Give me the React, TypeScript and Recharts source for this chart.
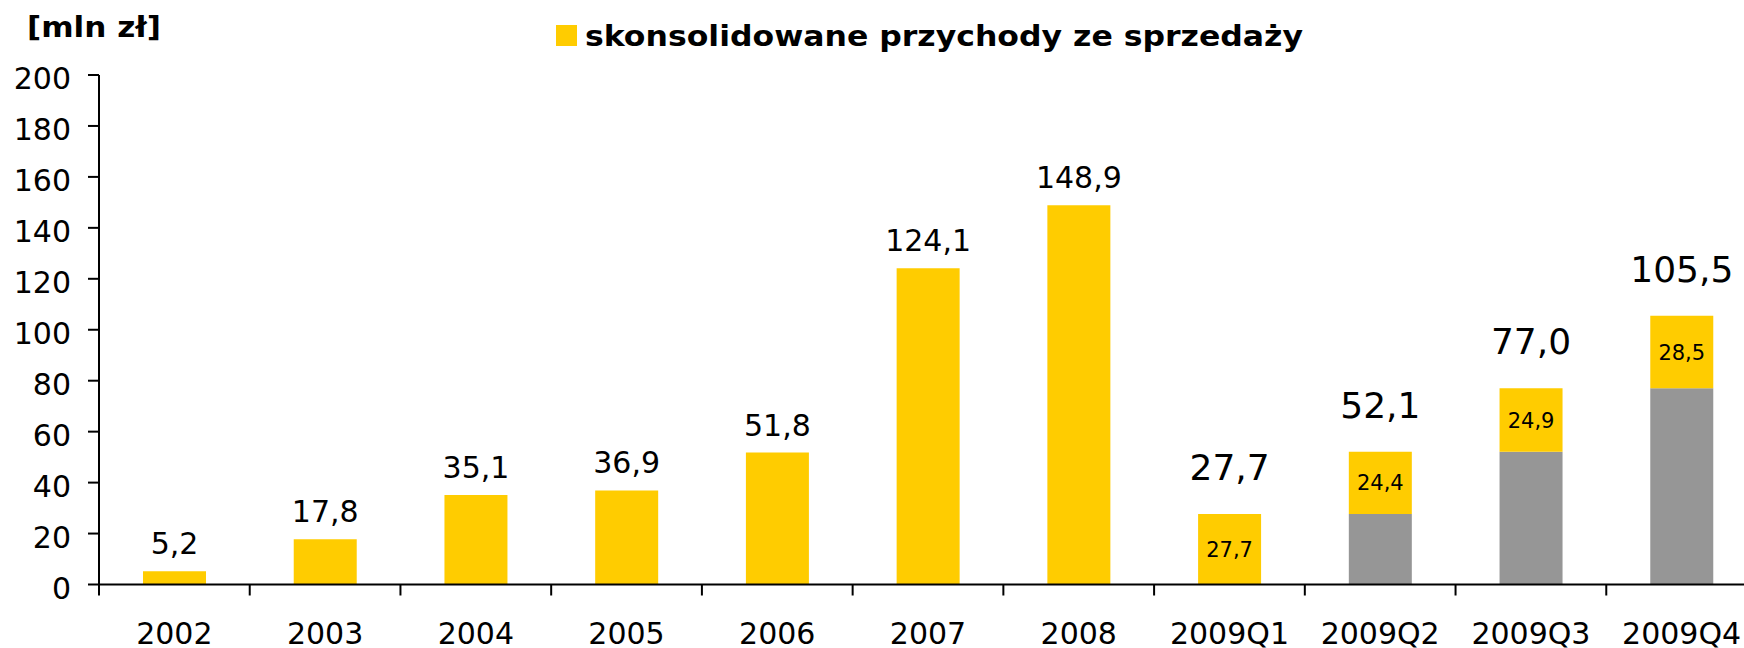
import React from 'react';
import { BarChart, Bar, XAxis, YAxis, Legend, LabelList } from 'recharts';

const categories = ['2002', '2003', '2004', '2005', '2006', '2007', '2008', '2009Q1', '2009Q2', '2009Q3', '2009Q4'];
// grey part = revenue of earlier quarters of 2009 (cumulative)
const earlierQuarters = [0, 0, 0, 0, 0, 0, 0, 0, 27.7, 52.1, 77.0];
// yellow part = revenue of the period itself
const periodRevenue = [5.2, 17.8, 35.1, 36.9, 51.8, 124.1, 148.9, 27.7, 24.4, 24.9, 28.5];
const yTicks = [0, 20, 40, 60, 80, 100, 120, 140, 160, 180, 200];

const unitLabel = '[mln zł]';
const legendLabel = 'skonsolidowane przychody ze sprzedaży';

const YELLOW = '#FFCC00';
const GREY = '#969696';
const FONT = '"DejaVu Sans", Verdana, sans-serif';

const CHART_W = 1760;
const CHART_H = 648;
const Y_AXIS_W = 99;
const RIGHT = 3;

const data = categories.map((c, i) => ({
  category: c,
  earlier: earlierQuarters[i],
  period: periodRevenue[i],
}));

const fmt = (v: number) => v.toFixed(1).replace('.', ',');
const isQuarter = (i: number) => categories[i].includes('Q');

function BarLabels(props: any) {
  const { index } = props;
  const vb = props.viewBox ?? props;
  const { x, y, width, height } = vb;
  const cx = x + width / 2;
  const total = fmt(earlierQuarters[index] + periodRevenue[index]);
  if (!isQuarter(index)) {
    return (
      <text x={cx} y={y - 17} textAnchor="middle" fontSize={30} fill="#000" fontFamily={FONT}>
        {total}
      </text>
    );
  }
  return (
    <g fontFamily={FONT} fill="#000">
      <text x={cx} y={y - 34} textAnchor="middle" fontSize={36}>{total}</text>
      <text x={cx} y={y + height / 2} dy="0.36em" textAnchor="middle" fontSize={21}>
        {fmt(periodRevenue[index])}
      </text>
    </g>
  );
}

function XTick(props: any) {
  const { x, y, payload } = props;
  const half = payload?.offset || (CHART_W - Y_AXIS_W - RIGHT) / categories.length / 2;
  return (
    <g>
      <line x1={x - half} x2={x - half} y1={y} y2={y + 11} stroke="#000" strokeWidth={2} />
      <text x={x} y={y + 59} textAnchor="middle" fontSize={30} fill="#000" fontFamily={FONT}>
        {payload.value}
      </text>
    </g>
  );
}

function YTick(props: any) {
  const { x, y, payload } = props;
  return (
    <text x={x} y={y} dy={14} textAnchor="end" fontSize={30} fill="#000" fontFamily={FONT}>
      {payload.value}
    </text>
  );
}

function LegendBox() {
  return (
    <svg width={1744} height={60} style={{ display: 'block' }}>
      <rect x={556} y={25} width={21} height={21} fill={YELLOW} />
      <text x={585} y={46} fontSize={28} fontWeight="bold" fill="#000" fontFamily={FONT}
        textLength={718} lengthAdjust="spacingAndGlyphs">
        {legendLabel}
      </text>
    </svg>
  );
}

export default function App() {
  return (
    <div style={{ position: 'absolute', left: 0, top: 0, width: 1744, height: 648, overflow: 'hidden', background: '#fff' }}>
      <svg width={200} height={60} style={{ position: 'absolute', left: 0, top: 0, zIndex: 2 }}>
        <text x={27} y={37} fontSize={28} fontWeight="bold" fill="#000" fontFamily={FONT}
          textLength={134} lengthAdjust="spacingAndGlyphs">
          {unitLabel}
        </text>
      </svg>
      <BarChart
        width={CHART_W}
        height={CHART_H}
        data={data}
        margin={{ top: 75, right: RIGHT, bottom: 0, left: 0 }}
        barCategoryGap={0}
      >
        <XAxis
          dataKey="category"
          interval={0}
          height={63.5}
          axisLine={{ stroke: '#000', strokeWidth: 2 }}
          tickLine={false}
          tickSize={0}
          tickMargin={0}
          tick={<XTick />}
        />
        <YAxis
          width={Y_AXIS_W}
          domain={[0, 200]}
          ticks={yTicks}
          interval={0}
          axisLine={{ stroke: '#000', strokeWidth: 2 }}
          tickLine={{ stroke: '#000', strokeWidth: 2 }}
          tickSize={11}
          tickMargin={17}
          tick={<YTick />}
        />
        <Legend
          layout="horizontal"
          align="center"
          verticalAlign="middle"
          wrapperStyle={{ top: 0, left: 0, width: 1744, height: 60 }}
          content={<LegendBox />}
        />
        <Bar dataKey="earlier" stackId="rev" fill={GREY} barSize={63} isAnimationActive={false} legendType="none" />
        <Bar dataKey="period" stackId="rev" fill={YELLOW} barSize={63} isAnimationActive={false}>
          <LabelList dataKey="period" content={<BarLabels />} />
        </Bar>
      </BarChart>
    </div>
  );
}
